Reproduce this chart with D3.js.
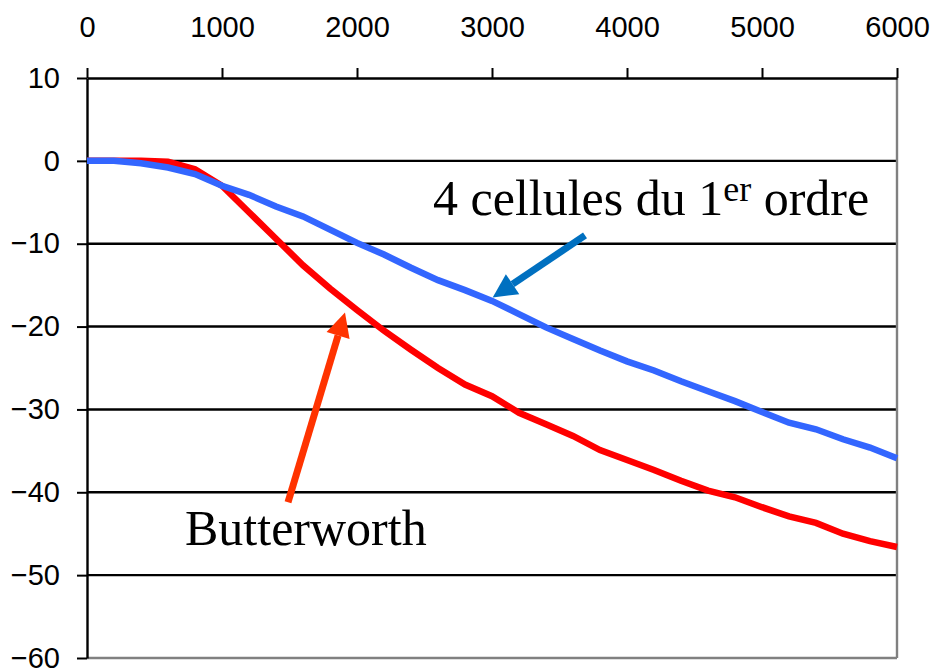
<!DOCTYPE html>
<html>
<head>
<meta charset="utf-8">
<script src="https://cdn.jsdelivr.net/npm/d3@7"></script>
<style>
  html, body { margin: 0; padding: 0; background: #fff; }
  svg { display: block; }
</style>
</head>
<body>
<svg id="chart" width="935" height="669"></svg>
<script>
// Frequency (Hz), one point every 200 Hz
const frequencies = d3.range(0, 6001, 200);

// Attenuation (dB) of four cascaded first-order cells
const cellules = [0, 0, -0.3, -0.8, -1.6, -3.0, -4.1, -5.5, -6.7, -8.3, -9.9,
  -11.3, -12.9, -14.4, -15.6, -16.9, -18.5, -20.1, -21.5, -22.9, -24.2,
  -25.3, -26.6, -27.8, -29.0, -30.3, -31.6, -32.4, -33.6, -34.6, -35.9];

// Attenuation (dB) of the Butterworth filter
const butterworth = [0, 0, 0, -0.1, -1.0, -3.0, -6.2, -9.4, -12.6, -15.4, -18.0,
  -20.5, -22.8, -25.0, -27.0, -28.4, -30.4, -31.8, -33.2, -34.9, -36.1,
  -37.3, -38.6, -39.8, -40.6, -41.8, -42.9, -43.7, -45.0, -45.9, -46.6];

const xTicks = [0, 1000, 2000, 3000, 4000, 5000, 6000];
const yTicks = [10, 0, -10, -20, -30, -40, -50, -60];

const svg = d3.select("#chart");
const plotLeft = 87, plotRight = 897, plotTop = 78, plotBottom = 658;

const x = d3.scaleLinear().domain([0, 6000]).range([plotLeft, plotRight]);
const y = d3.scaleLinear().domain([10, -60]).range([plotTop, plotBottom]);

// Horizontal grid lines
svg.append("g")
  .selectAll("line")
  .data(yTicks.filter(v => v !== 10 && v !== -60))
  .join("line")
  .attr("x1", plotLeft).attr("x2", plotRight)
  .attr("y1", d => y(d)).attr("y2", d => y(d))
  .attr("stroke", "#000").attr("stroke-width", 2.4);

// Right and bottom frame (grey)
svg.append("line")
  .attr("x1", plotRight).attr("x2", plotRight).attr("y1", plotTop).attr("y2", plotBottom)
  .attr("stroke", "#808080").attr("stroke-width", 2.4);
svg.append("line")
  .attr("x1", plotLeft).attr("x2", plotRight).attr("y1", plotBottom).attr("y2", plotBottom)
  .attr("stroke", "#808080").attr("stroke-width", 2.4);

// Top axis
const xAxis = d3.axisTop(x).tickValues(xTicks).tickFormat(d3.format("d"))
  .tickSize(10).tickSizeOuter(0).tickPadding(31);
const gx = svg.append("g").attr("transform", `translate(0,${plotTop})`).call(xAxis);
gx.select(".domain").attr("stroke", "#000").attr("stroke-width", 2.4);
gx.selectAll(".tick line").attr("stroke", "#000").attr("stroke-width", 2);
gx.selectAll("text")
  .attr("font-family", "Liberation Sans, Arial, sans-serif")
  .attr("font-size", 29).attr("fill", "#000");

// Left axis
const yAxis = d3.axisLeft(y).tickValues(yTicks).tickFormat(d3.format("d"))
  .tickSize(10).tickSizeOuter(0).tickPadding(17);
const gy = svg.append("g").attr("transform", `translate(${plotLeft},0)`).call(yAxis);
gy.select(".domain").attr("stroke", "#000").attr("stroke-width", 2.4);
gy.selectAll(".tick line").attr("stroke", "#000").attr("stroke-width", 2);
gy.selectAll("text")
  .attr("font-family", "Liberation Sans, Arial, sans-serif")
  .attr("font-size", 29).attr("fill", "#000");

// Curves
const line = d3.line().x((d, i) => x(frequencies[i])).y(d => y(d));

svg.append("path").datum(butterworth)
  .attr("d", line).attr("fill", "none")
  .attr("stroke", "#ff0000").attr("stroke-width", 6.5);

svg.append("path").datum(cellules)
  .attr("d", line).attr("fill", "none")
  .attr("stroke", "#3366ff").attr("stroke-width", 6.5);

// Annotation arrows (tail -> tip, in data units)
function arrow(tail, tip, color) {
  const x0 = x(tail[0]), y0 = y(tail[1]), x1 = x(tip[0]), y1 = y(tip[1]);
  const ang = Math.atan2(y1 - y0, x1 - x0);
  const headLen = 24, headHalf = 12;
  const bx = x1 - headLen * Math.cos(ang), by = y1 - headLen * Math.sin(ang);
  svg.append("line")
    .attr("x1", x0).attr("y1", y0).attr("x2", bx).attr("y2", by)
    .attr("stroke", color).attr("stroke-width", 7);
  const px = -Math.sin(ang) * headHalf, py = Math.cos(ang) * headHalf;
  svg.append("path")
    .attr("d", `M${x1},${y1}L${bx + px},${by + py}L${bx - px},${by - py}Z`)
    .attr("fill", color);
}
arrow([3689, -9.0], [3005, -16.5], "#0070c0");
arrow([1489, -41.2], [1911, -18.3], "#ff3300");

// Labels
const serif = "Liberation Serif, 'Times New Roman', serif";
const lab1 = svg.append("text")
  .attr("x", x(2563)).attr("y", y(-6.5))
  .attr("font-family", serif).attr("font-size", 50).attr("fill", "#000");
lab1.append("tspan").text("4 cellules du 1");
lab1.append("tspan").attr("dy", -14).attr("font-size", 36).text("er");
lab1.append("tspan").attr("dy", 14).text(" ordre");

svg.append("text")
  .attr("x", x(726)).attr("y", y(-46.4))
  .attr("font-family", serif).attr("font-size", 50).attr("fill", "#000")
  .text("Butterworth");
</script>
</body>
</html>
